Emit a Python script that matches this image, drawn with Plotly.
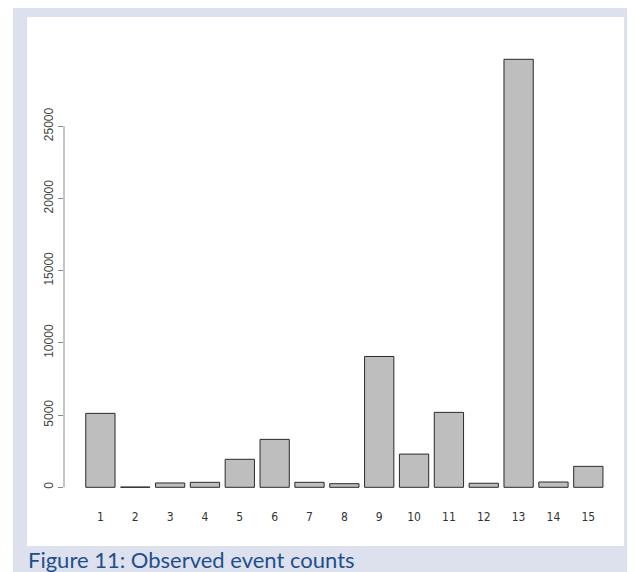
import plotly.graph_objects as go

# ---- data ----
categories = [1, 2, 3, 4, 5, 6, 7, 8, 9, 10, 11, 12, 13, 14, 15]
counts = [5120, 20, 300, 345, 1940, 3320, 345, 250, 9060, 2300, 5190, 280, 29640, 365, 1450]
y_ticks = [0, 5000, 10000, 15000, 20000, 25000]
caption = "Figure 11: Observed event counts"

# page body has an 8px margin, so the figure is sized to fit the 635x572 window
OFF = 8
W, H = 635 - OFF, 572 - OFF

def px_x(p):
    return (p - OFF) / W

def px_y(p):
    return 1 - (p - OFF) / H

fig = go.Figure()
fig.add_trace(go.Bar(
    x=categories, y=counts, width=0.84,
    marker=dict(color="#BEBEBE", line=dict(color="#2a2a2a", width=1)),
    hoverinfo="x+y",
))

shapes = [
    dict(type="rect", xref="paper", yref="paper", x0=px_x(13), x1=1, y0=0, y1=px_y(8),
         fillcolor="#DDE1EE", line=dict(width=0), layer="below"),
    dict(type="rect", xref="paper", yref="paper", x0=px_x(27), x1=px_x(624), y0=px_y(546), y1=px_y(17),
         fillcolor="#FFFFFF", line=dict(width=0), layer="below"),
    dict(type="line", xref="paper", yref="y", x0=px_x(64), x1=px_x(64), y0=y_ticks[0], y1=y_ticks[-1],
         line=dict(color="#8a8a8a", width=1)),
]

fig.update_layout(
    width=W, height=H,
    margin=dict(l=0, r=0, t=0, b=0),
    paper_bgcolor="#FFFFFF",
    plot_bgcolor="rgba(0,0,0,0)",
    showlegend=False,
    shapes=shapes,
    xaxis=dict(
        domain=[px_x(64), px_x(624)],
        range=[-0.0445, 16.024],
        tickmode="array", tickvals=categories, ticktext=[str(c) for c in categories],
        showgrid=False, zeroline=False, showline=False, ticks="",
        tickfont=dict(family="Liberation Sans Narrow, Arial Narrow, DejaVu Sans Condensed, Liberation Sans, Arial",
                      size=12, color="#333333"),
        ticklabelstandoff=1,
    ),
    yaxis=dict(
        domain=[px_y(507), px_y(40)],
        range=[-1364, 30977],
        tickmode="array", tickvals=y_ticks, ticktext=[str(v) for v in y_ticks],
        showgrid=False, zeroline=False, showline=False,
        ticks="outside", ticklen=5, tickcolor="#8a8a8a", tickwidth=1,
        tickangle=-90,
        tickfont=dict(family="Liberation Sans, Arial", size=12, color="#444444"),
    ),
    annotations=[dict(
        text=caption, xref="paper", yref="paper", x=px_x(26), y=px_y(559.5),
        xanchor="left", yanchor="middle", showarrow=False,
        font=dict(family="Lato, Open Sans, sans-serif", size=22, color="#1F4E8C"),
    )],
)

fig.write_html("out.html")
